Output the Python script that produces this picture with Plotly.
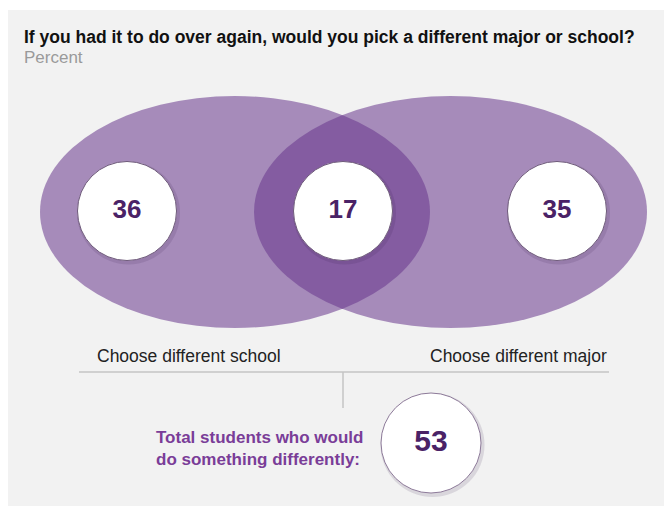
import plotly.graph_objects as go

# ---- data ----
segments = ["Choose different school", "Both", "Choose different major"]
values = [36, 17, 35]
total_label = "Total students who would<br>do something differently:"
total_value = 53
title = "If you had it to do over again, would you pick a different major or school?"
subtitle = "Percent"

# ---- layout geometry (screen pixel space; page body has an 8px margin) ----
W, H = 672, 506
OFF = 8
circle_x = [127, 343, 557]
circle_y = 211
total_x, total_y = 431, 443

FONT = "Liberation Sans, Arial, Helvetica, sans-serif"
NUM_COLOR = "#4a2266"
PURPLE_TEXT = "#7a3d98"

fig = go.Figure()

# soft shadows behind the circles
fig.add_trace(go.Scatter(
    x=[x + 1.5 for x in circle_x] + [total_x + 1.5], y=[circle_y + 2] * 3 + [total_y + 2],
    mode="markers",
    marker=dict(size=[103, 103, 103, 104], color="rgba(50,20,70,0.18)", line=dict(width=0)),
    hoverinfo="skip", showlegend=False,
))

# white value circles
fig.add_trace(go.Scatter(
    x=circle_x, y=[circle_y] * 3,
    mode="markers+text",
    marker=dict(size=99, color="white", line=dict(color="#6e5a7a", width=1)),
    text=[str(v) for v in values],
    textposition="middle center",
    textfont=dict(family=FONT, size=26, color=NUM_COLOR, weight="bold"),
    hoverinfo="skip", showlegend=False,
))

# total circle
fig.add_trace(go.Scatter(
    x=[total_x], y=[total_y],
    mode="markers+text",
    marker=dict(size=100, color="white", line=dict(color="#8d7a99", width=1)),
    text=[str(total_value)],
    textposition="middle center",
    textfont=dict(family=FONT, size=30, color=NUM_COLOR, weight="bold"),
    hoverinfo="skip", showlegend=False,
))

shapes = [
    # panel background
    dict(type="rect", xref="x", yref="y", x0=7, x1=W, y0=10, y1=H,
         fillcolor="#f2f2f2", line=dict(width=0), layer="below"),
    # ellipses
    dict(type="circle", xref="x", yref="y", x0=40, x1=430, y0=96, y1=328,
         fillcolor="rgba(104,55,140,0.55)", line=dict(width=0), layer="below"),
    dict(type="circle", xref="x", yref="y", x0=254, x1=647, y0=96, y1=328,
         fillcolor="rgba(104,55,140,0.55)", line=dict(width=0), layer="below"),
    # connector lines
    dict(type="line", xref="x", yref="y", x0=79, x1=609, y0=372, y1=372,
         line=dict(color="#c4c4c4", width=1.5), layer="below"),
    dict(type="line", xref="x", yref="y", x0=343, x1=343, y0=372, y1=408,
         line=dict(color="#c4c4c4", width=1.5), layer="below"),
]

annotations = [
    dict(x=22, y=36.5, text=f"<b>{title}</b>", showarrow=False, xanchor="left", yanchor="middle",
         font=dict(family=FONT, size=17.5, color="#111111")),
    dict(x=22, y=57, text=subtitle, showarrow=False, xanchor="left", yanchor="middle",
         font=dict(family=FONT, size=17, color="#9a9a9a")),
    dict(x=95, y=356, text=segments[0], showarrow=False, xanchor="left", yanchor="middle",
         font=dict(family=FONT, size=17.5, color="#222222")),
    dict(x=609, y=356, text=segments[2], showarrow=False, xanchor="right", yanchor="middle",
         font=dict(family=FONT, size=17.5, color="#222222")),
    dict(x=365, y=448, text=f"<b>{total_label}</b>", showarrow=False, xanchor="right", yanchor="middle",
         align="left", font=dict(family=FONT, size=17, color=PURPLE_TEXT)),
]

fig.update_layout(
    width=W - OFF, height=H - OFF,
    margin=dict(l=0, r=0, t=0, b=0),
    paper_bgcolor="white", plot_bgcolor="rgba(0,0,0,0)",
    xaxis=dict(range=[OFF, W], visible=False, fixedrange=True),
    yaxis=dict(range=[H, OFF], visible=False, fixedrange=True),
    shapes=shapes, annotations=annotations,
    showlegend=False,
)

fig.write_html("out.html")
